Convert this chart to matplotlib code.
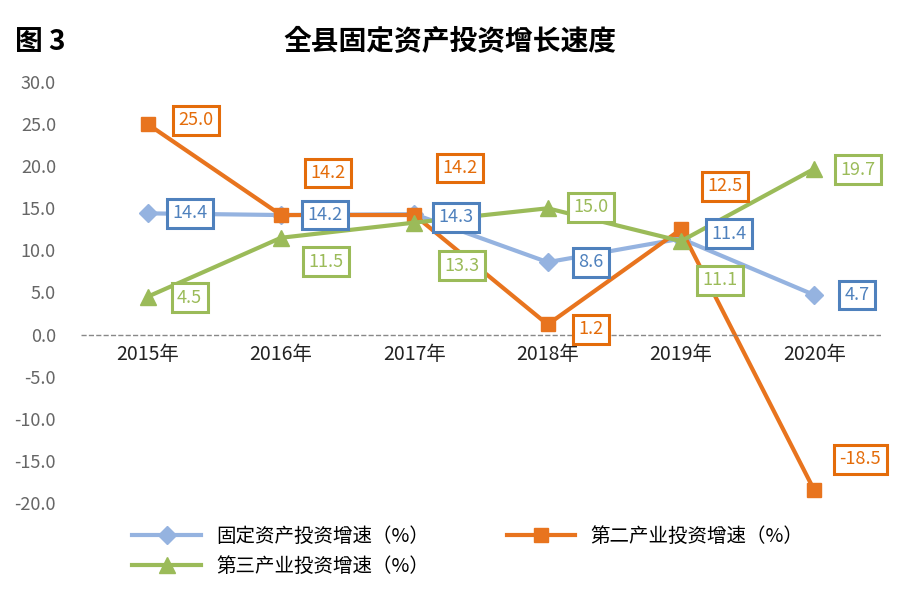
import matplotlib
matplotlib.use('Agg')
import matplotlib.pyplot as plt
from matplotlib import font_manager

# pick an installed CJK font
names = {f.name for f in font_manager.fontManager.ttflist}
cjk = [n for n in ['Noto Sans CJK SC', 'Noto Sans CJK JP', 'Noto Sans CJK TC', 'Noto Sans CJK KR',
                   'Noto Sans SC'] if n in names]
plt.rcParams['font.family'] = 'sans-serif'
plt.rcParams['font.sans-serif'] = cjk + ['DejaVu Sans']
plt.rcParams['axes.unicode_minus'] = False

# chart data
years = ['2015年', '2016年', '2017年', '2018年', '2019年', '2020年']
total = [14.4, 14.2, 14.3, 8.6, 11.4, 4.7]
secondary = [25.0, 14.2, 14.2, 1.2, 12.5, -18.5]
tertiary = [4.5, 11.5, 13.3, 15.0, 11.1, 19.7]
yticks = [30, 25, 20, 15, 10, 5, 0, -5, -10, -15, -20]

# label offsets in pixels (dx, dy)
off_total = [(42, 0), (44, 0), (42, -3), (43, 0), (48, 5), (43, 0)]
off_second = [(48, 4), (47, 42), (46, 47), (43, -5), (44, 43), (46, 31)]
off_third = [(42, -1), (45, -24), (48, -43), (43, 1), (39, -39), (44, -1)]

c_blue, c_orange, c_green = '#95b3e0', '#e8741e', '#9bbb59'
e_blue, e_orange, e_green = '#4f81bd', '#e46c0a', '#9bbb59'

fig = plt.figure(figsize=(9.18, 5.99), dpi=100)
ax = fig.add_axes([81 / 918, 1 - 503 / 599, 800 / 918, 421 / 599])

x = list(range(len(years)))
l1, = ax.plot(x, total, color=c_blue, lw=3, marker='D', ms=9, label='固定资产投资增速（%）')
l2, = ax.plot(x, secondary, color=c_orange, lw=3, marker='s', ms=10, label='第二产业投资增速（%）')
l3, = ax.plot(x, tertiary, color=c_green, lw=3, marker='^', ms=11, label='第三产业投资增速（%）')

for vals, offs, ec in [(total, off_total, e_blue), (secondary, off_second, e_orange),
                       (tertiary, off_third, e_green)]:
    for xi, v, (dx, dy) in zip(x, vals, offs):
        ax.annotate(f'{v:.1f}', (xi, v), xytext=(dx, dy), textcoords='offset pixels',
                    ha='center', va='center', fontsize=13, color=ec,
                    bbox=dict(boxstyle='square,pad=0.3', fc='white', ec=ec, lw=2.2))

ax.axhline(0, color='#888888', lw=1, ls='--')
ax.set_xlim(-0.5, 5.5)
ax.set_ylim(-20, 30)
ax.set_yticks(yticks)
ax.set_yticklabels([f'{t:.1f}' for t in yticks], fontsize=13, color='#666666')
ax.set_xticks([])
for xi, yr in zip(x, years):
    ax.text(xi, -1.1, yr, ha='center', va='top', fontsize=14, color='#222222')
for s in ax.spines.values():
    s.set_visible(False)
ax.tick_params(axis='y', length=0, pad=18)

fig.text(15 / 918, 1 - 42 / 599, '图 3', fontsize=20, fontweight='bold', va='center')
fig.text(450 / 918, 1 - 42 / 599, '全县固定资产投资增长速度', fontsize=20,
         fontweight='bold', va='center', ha='center')

# column-wise fill: first column total/tertiary, second column secondary
fig.legend([l1, l3, l2], [l1.get_label(), l3.get_label(), l2.get_label()],
           loc='upper left', bbox_to_anchor=(115 / 918, 1 - 508 / 599), ncol=2,
           frameon=False, fontsize=14, columnspacing=4, handlelength=3.5)

fig.savefig('out.png', dpi=100)
